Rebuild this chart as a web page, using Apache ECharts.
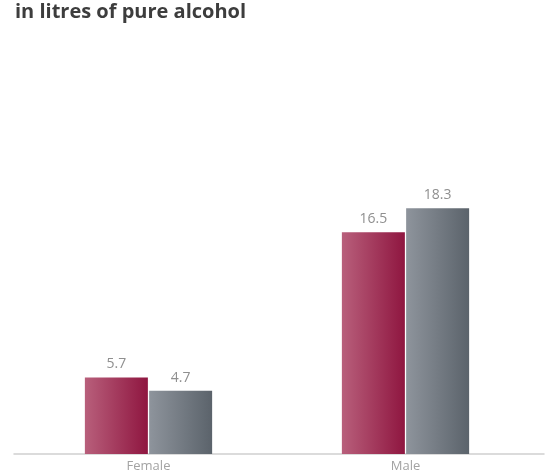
<!DOCTYPE html>
<html><head><meta charset="utf-8">
<script src="https://cdn.jsdelivr.net/npm/echarts@6/dist/echarts.min.js"></script>
<style>html,body{margin:0;padding:0;background:#fff}#c{width:550px;height:475px}</style>
</head><body><div id="c"></div>
<script>
const titleText = 'in litres of pure alcohol';
const categories = ['Female', 'Male'];
const seriesA = [5.7, 16.5];
const seriesB = [4.7, 18.3];

const chart = echarts.init(document.getElementById('c'));
const grad = (a, b) => new echarts.graphic.LinearGradient(0, 0, 1, 0, [{offset: 0, color: a}, {offset: 1, color: b}]);
const lbl = {show: true, position: 'top', distance: 6, color: '#8f8f8f', fontSize: 14, fontFamily: 'Open Sans'};
chart.setOption({
  animation: false,
  title: {text: titleText, left: 10, top: -3, textStyle: {fontFamily: 'Open Sans', fontWeight: 'bold', fontSize: 20, color: '#3d3d3d'}},
  grid: [
    {left: 20, right: 16, top: 51, bottom: 21},
    {left: 14, right: 6, top: 51, bottom: 21}
  ],
  xAxis: [
    {type: 'category', gridIndex: 0, data: categories, axisLine: {show: false}, axisTick: {show: false},
     axisLabel: {color: '#a3a3a3', fontSize: 13, fontFamily: 'Open Sans', margin: 6}},
    {type: 'category', gridIndex: 1, data: categories, axisLine: {show: true, lineStyle: {color: '#cfcfcf', width: 1.5}},
     axisTick: {show: false}, axisLabel: {show: false}}
  ],
  yAxis: [
    {type: 'value', gridIndex: 0, min: 0, max: 30, show: false, splitLine: {show: false}},
    {type: 'value', gridIndex: 1, min: 0, max: 30, show: false, splitLine: {show: false}}
  ],
  series: [
    {type: 'bar', xAxisIndex: 0, yAxisIndex: 0, data: seriesA, barWidth: 63, barGap: '2%',
     itemStyle: {color: grad('#b85f7b', '#8f1640')}, label: lbl},
    {type: 'bar', xAxisIndex: 0, yAxisIndex: 0, data: seriesB, barWidth: 63,
     itemStyle: {color: grad('#8e949c', '#5b636b')}, label: lbl}
  ]
});
</script></body></html>
